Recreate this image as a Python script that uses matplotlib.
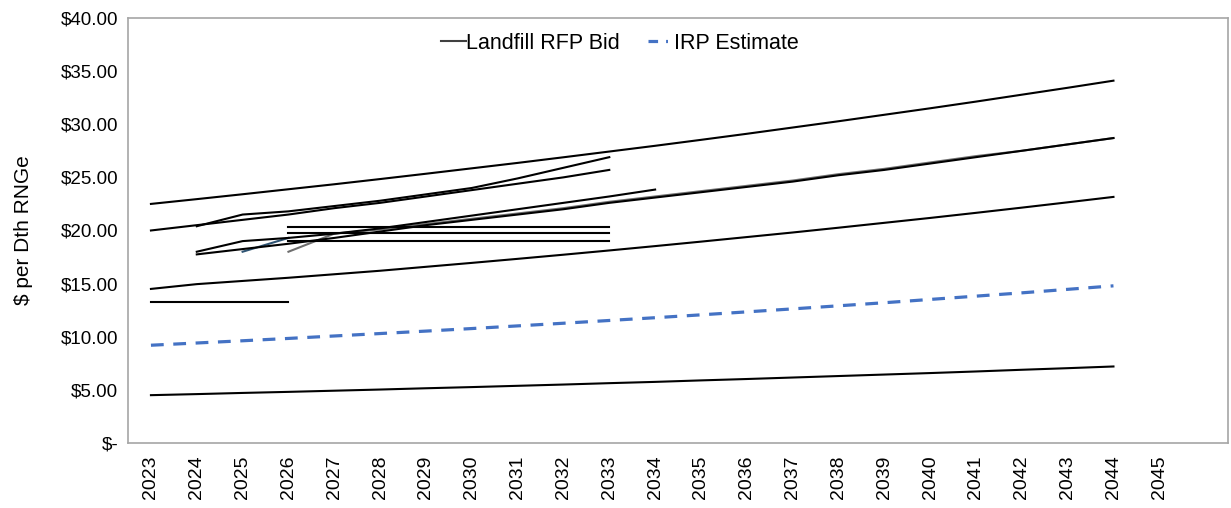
import numpy as np
import matplotlib.pyplot as plt
from matplotlib.ticker import FuncFormatter

plt.rcParams['font.family'] = ['Liberation Sans', 'DejaVu Sans']

# price paths per bid ($ per Dth RNGe)
bid_a_years = list(range(2023, 2045))
bid_a = [22.50, 22.95, 23.41, 23.88, 24.35, 24.84, 25.34, 25.85, 26.36, 26.89, 27.43,
         27.97, 28.53, 29.10, 29.69, 30.28, 30.89, 31.50, 32.13, 32.78, 33.43, 34.10]

bid_b_years = list(range(2023, 2034))
bid_b = [20.0, 20.5, 21.0, 21.5, 22.1, 22.6, 23.2, 23.8, 24.4, 25.0, 25.7]

bid_c_years = list(range(2024, 2034))
bid_c = [20.4, 21.5, 21.8, 22.3, 22.8, 23.4, 24.0, 24.9, 25.9, 26.9]

bid_d_years = list(range(2024, 2045))
bid_d = [17.75, 18.25, 18.75, 19.3, 19.9, 20.5, 21.0, 21.5, 22.0, 22.6, 23.1,
         23.6, 24.1, 24.6, 25.2, 25.7, 26.3, 26.9, 27.5, 28.1, 28.7]

bid_e_years = list(range(2024, 2035))
bid_e = [18.0, 19.0, 19.3, 19.7, 20.2, 20.8, 21.4, 22.0, 22.6, 23.2, 23.85]

bid_f_years = [2025, 2026]
bid_f = [18.0, 19.3]

bid_g_years = list(range(2026, 2045))
bid_g = [18.0, 19.7, 20.1, 20.6, 21.1, 21.6, 22.1, 22.7, 23.2, 23.7, 24.2,
         24.7, 25.3, 25.8, 26.4, 27.0, 27.5, 28.1, 28.7]

flat_years = list(range(2026, 2034))
flat_1 = [20.3] * 8
flat_2 = [19.75] * 8
flat_3 = [19.0] * 8

short_years = [2023, 2024, 2025, 2026]
short_flat = [13.25] * 4

bid_h_years = list(range(2023, 2045))
bid_h = [14.50, 14.95, 15.25, 15.55, 15.88, 16.21, 16.58, 16.95, 17.33, 17.72, 18.12,
         18.53, 18.95, 19.38, 19.81, 20.26, 20.72, 21.18, 21.66, 22.15, 22.65, 23.16]

bid_low_years = list(range(2023, 2045))
bid_low = [4.50, 4.60, 4.71, 4.81, 4.92, 5.03, 5.15, 5.26, 5.38, 5.50, 5.63,
           5.75, 5.89, 6.02, 6.16, 6.30, 6.44, 6.58, 6.73, 6.89, 7.04, 7.20]

irp_years = list(range(2023, 2045))
irp = [9.20, 9.41, 9.62, 9.84, 10.07, 10.30, 10.53, 10.77, 11.02, 11.27, 11.53,
       11.79, 12.06, 12.34, 12.62, 12.91, 13.20, 13.51, 13.82, 14.13, 14.46, 14.79]

tick_years = list(range(2023, 2046))

fig = plt.figure(figsize=(12.31, 5.08), dpi=100)
ax = fig.add_axes([0.104, 0.128, 0.8936, 0.8366])

lw = 1.5
ax.plot(bid_g_years, bid_g, color='#6E6E6E', lw=lw)
ax.plot(bid_f_years, bid_f, color='#2F5473', lw=lw)
for yrs, vals in [(bid_a_years, bid_a), (bid_b_years, bid_b), (bid_c_years, bid_c),
                  (bid_d_years, bid_d), (bid_e_years, bid_e),
                  (flat_years, flat_1), (flat_years, flat_2), (flat_years, flat_3),
                  (short_years, short_flat), (bid_h_years, bid_h),
                  (bid_low_years, bid_low)]:
    ax.plot(yrs, vals, color='black', lw=lw)

ax.plot(irp_years, irp, color='#4472C4', lw=2.3, dashes=(4, 3))

# legend proxies
h1, = ax.plot([], [], color='#404040', lw=1.5, label='Landfill RFP Bid')
h2, = ax.plot([], [], color='#4472C4', lw=2.3, dashes=(3, 2.5, 0.6, 2.5), label='IRP Estimate')
ax.legend(handles=[h1, h2], loc='center', bbox_to_anchor=(0.447, 0.94), ncol=2,
          frameon=False, fontsize=15.5, handlelength=1.2, handletextpad=0.0,
          columnspacing=1.3)

ax.set_xlim(2022.5, 2046.5)
ax.set_ylim(0, 40)
ax.set_xticks(tick_years)
ax.set_xticklabels([str(y) for y in tick_years], rotation=90)
ax.set_yticks(np.arange(0, 41, 5))
ax.yaxis.set_major_formatter(FuncFormatter(lambda v, p: '$-' if v == 0 else f'${v:.2f}'))
ax.tick_params(length=0, labelsize=14)
ax.tick_params(axis='y', labelsize=13.5, pad=7)
ax.tick_params(axis='x', pad=9)
ax.set_ylabel('$ per Dth RNGe', fontsize=15, labelpad=20)

for s in ax.spines.values():
    s.set_color('#A6A6A6')
    s.set_linewidth(1.2)

fig.savefig('out.png', dpi=100)
